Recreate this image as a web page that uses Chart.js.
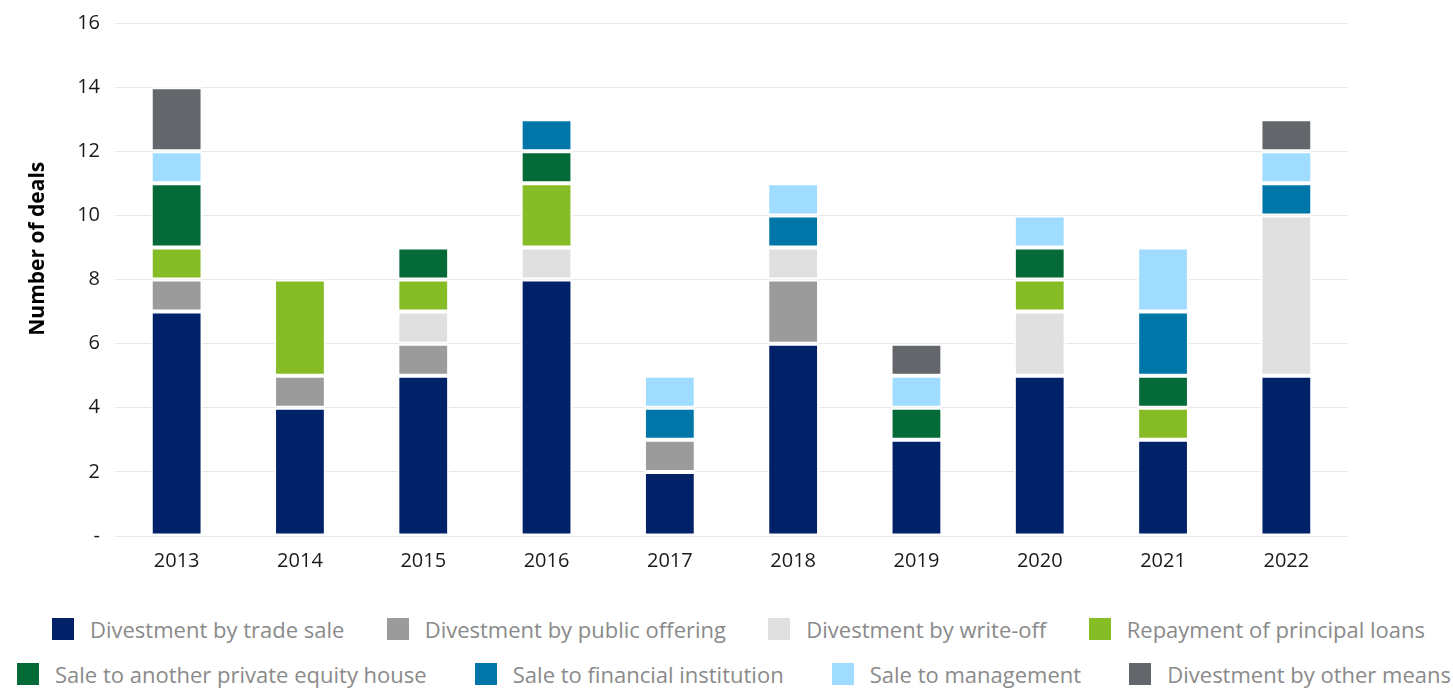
<!DOCTYPE html>
<html>
<head>
<meta charset="utf-8">
<script src="https://cdn.jsdelivr.net/npm/chart.js@4"></script>
<style>
  html, body { margin: 0; padding: 0; background: #fff; }
  #wrap { width: 1453px; height: 578px; position: relative; }
  #legend { width: 1453px; font-family: 'Open Sans', sans-serif; font-size: 22px; color: #8a8a8a; }
  .row { display: flex; justify-content: space-between; height: 45px; align-items: center; }
  .row1 { padding: 0 28px 0 52px; margin-top: 28px; }
  .row2 { padding: 0 2px 0 17px; }
  .item { display: flex; align-items: center; white-space: nowrap; }
  .box { width: 22px; height: 22px; margin-right: 16px; }
</style>
</head>
<body>
<div id="wrap"><canvas id="chart"></canvas></div>
<div id="legend"></div>
<script>
const years = ["2013", "2014", "2015", "2016", "2017", "2018", "2019", "2020", "2021", "2022"];

const tradeSale    = [7, 4, 5, 8, 2, 6, 3, 5, 3, 5];
const publicOffer  = [1, 1, 1, 0, 1, 2, 0, 0, 0, 0];
const writeOff     = [0, 0, 1, 1, 0, 1, 0, 2, 0, 5];
const repayment    = [1, 3, 1, 2, 0, 0, 0, 1, 1, 0];
const otherPE      = [2, 0, 1, 1, 0, 0, 1, 1, 1, 0];
const financial    = [0, 0, 0, 1, 1, 1, 0, 0, 2, 1];
const management   = [1, 0, 0, 0, 1, 1, 1, 1, 2, 1];
const otherMeans   = [2, 0, 0, 0, 0, 0, 1, 0, 0, 1];

const yTicks = [0, 2, 4, 6, 8, 10, 12, 14, 16];
const yTitle = "Number of deals";

Chart.defaults.font.family = "'Open Sans', sans-serif";

function series(label, data, color) {
    return {
        label: label,
        data: data,
        backgroundColor: color,
        borderColor: "#ffffff",
        borderWidth: 2,
        borderSkipped: false,
        categoryPercentage: 1,
        barPercentage: 0.42,
    };
}

// html legend, 4 items per row like the original
const htmlLegend = {
    id: "htmlLegend",
    afterUpdate(chart) {
        const el = document.getElementById("legend");
        el.innerHTML = "";
        const sets = chart.data.datasets;
        for (let r = 0; r < 2; r++) {
            const row = document.createElement("div");
            row.className = "row row" + (r + 1);
            sets.slice(r * 4, r * 4 + 4).forEach(function (ds) {
                const item = document.createElement("div");
                item.className = "item";
                const box = document.createElement("span");
                box.className = "box";
                box.style.background = ds.backgroundColor;
                const txt = document.createElement("span");
                txt.textContent = ds.label;
                item.appendChild(box);
                item.appendChild(txt);
                row.appendChild(item);
            });
            el.appendChild(row);
        }
    },
};

// axis title sits a bit above the middle of the axis in the original
const axisTitle = {
    id: "axisTitle",
    afterDraw(chart) {
        const ctx = chart.ctx;
        const area = chart.chartArea;
        ctx.save();
        ctx.translate(38, area.top + (area.bottom - area.top) * 0.44);
        ctx.rotate(-Math.PI / 2);
        ctx.font = "bold 21px 'Open Sans', sans-serif";
        ctx.fillStyle = "#000";
        ctx.textAlign = "center";
        ctx.textBaseline = "middle";
        ctx.fillText(yTitle, 0, 0);
        ctx.restore();
    },
};

const CHART = document.getElementById("chart").getContext("2d");

let barChart = new Chart(CHART, {
    type: "bar",
    data: {
        labels: years,
        datasets: [
            series("Divestment by trade sale", tradeSale, "#012169"),
            series("Divestment by public offering", publicOffer, "#9b9b9b"),
            series("Divestment by write-off", writeOff, "#e0e0e0"),
            series("Repayment of principal loans", repayment, "#86bc25"),
            series("Sale to another private equity house", otherPE, "#046a38"),
            series("Sale to financial institution", financial, "#0076a8"),
            series("Sale to management", management, "#a0dcff"),
            series("Divestment by other means", otherMeans, "#63666a"),
        ],
    },
    options: {
        responsive: true,
        maintainAspectRatio: false,
        animation: false,
        layout: { padding: 0 },
        plugins: {
            tooltip: { enabled: false },
            legend: { display: false },
        },
        scales: {
            x: {
                stacked: true,
                grid: { display: false },
                border: { display: false },
                ticks: { color: "#1a1a1a", font: { size: 20 }, padding: 5 },
            },
            y: {
                stacked: true,
                min: 0,
                max: 16,
                afterBuildTicks: function (scale) {
                    scale.ticks = yTicks.map(function (v) { return { value: v }; });
                },
                afterFit: function (scale) {
                    scale.width = 115;
                    scale.paddingTop = 23;
                },
                grid: { color: "#e8e8e8", drawTicks: false, lineWidth: 1 },
                border: { display: false },
                ticks: {
                    color: "#1a1a1a",
                    font: { size: 20 },
                    padding: 15,
                    callback: function (v) { return v === 0 ? "-" : v; },
                },
            },
            yRight: {
                position: "right",
                display: true,
                min: 0,
                max: 16,
                grid: { display: false },
                border: { display: false },
                ticks: { display: false },
                afterFit: function (scale) {
                    scale.width = 105;
                    scale.paddingTop = 0;
                },
            },
        },
    },
    plugins: [htmlLegend, axisTitle],
});
</script>
</body>
</html>
